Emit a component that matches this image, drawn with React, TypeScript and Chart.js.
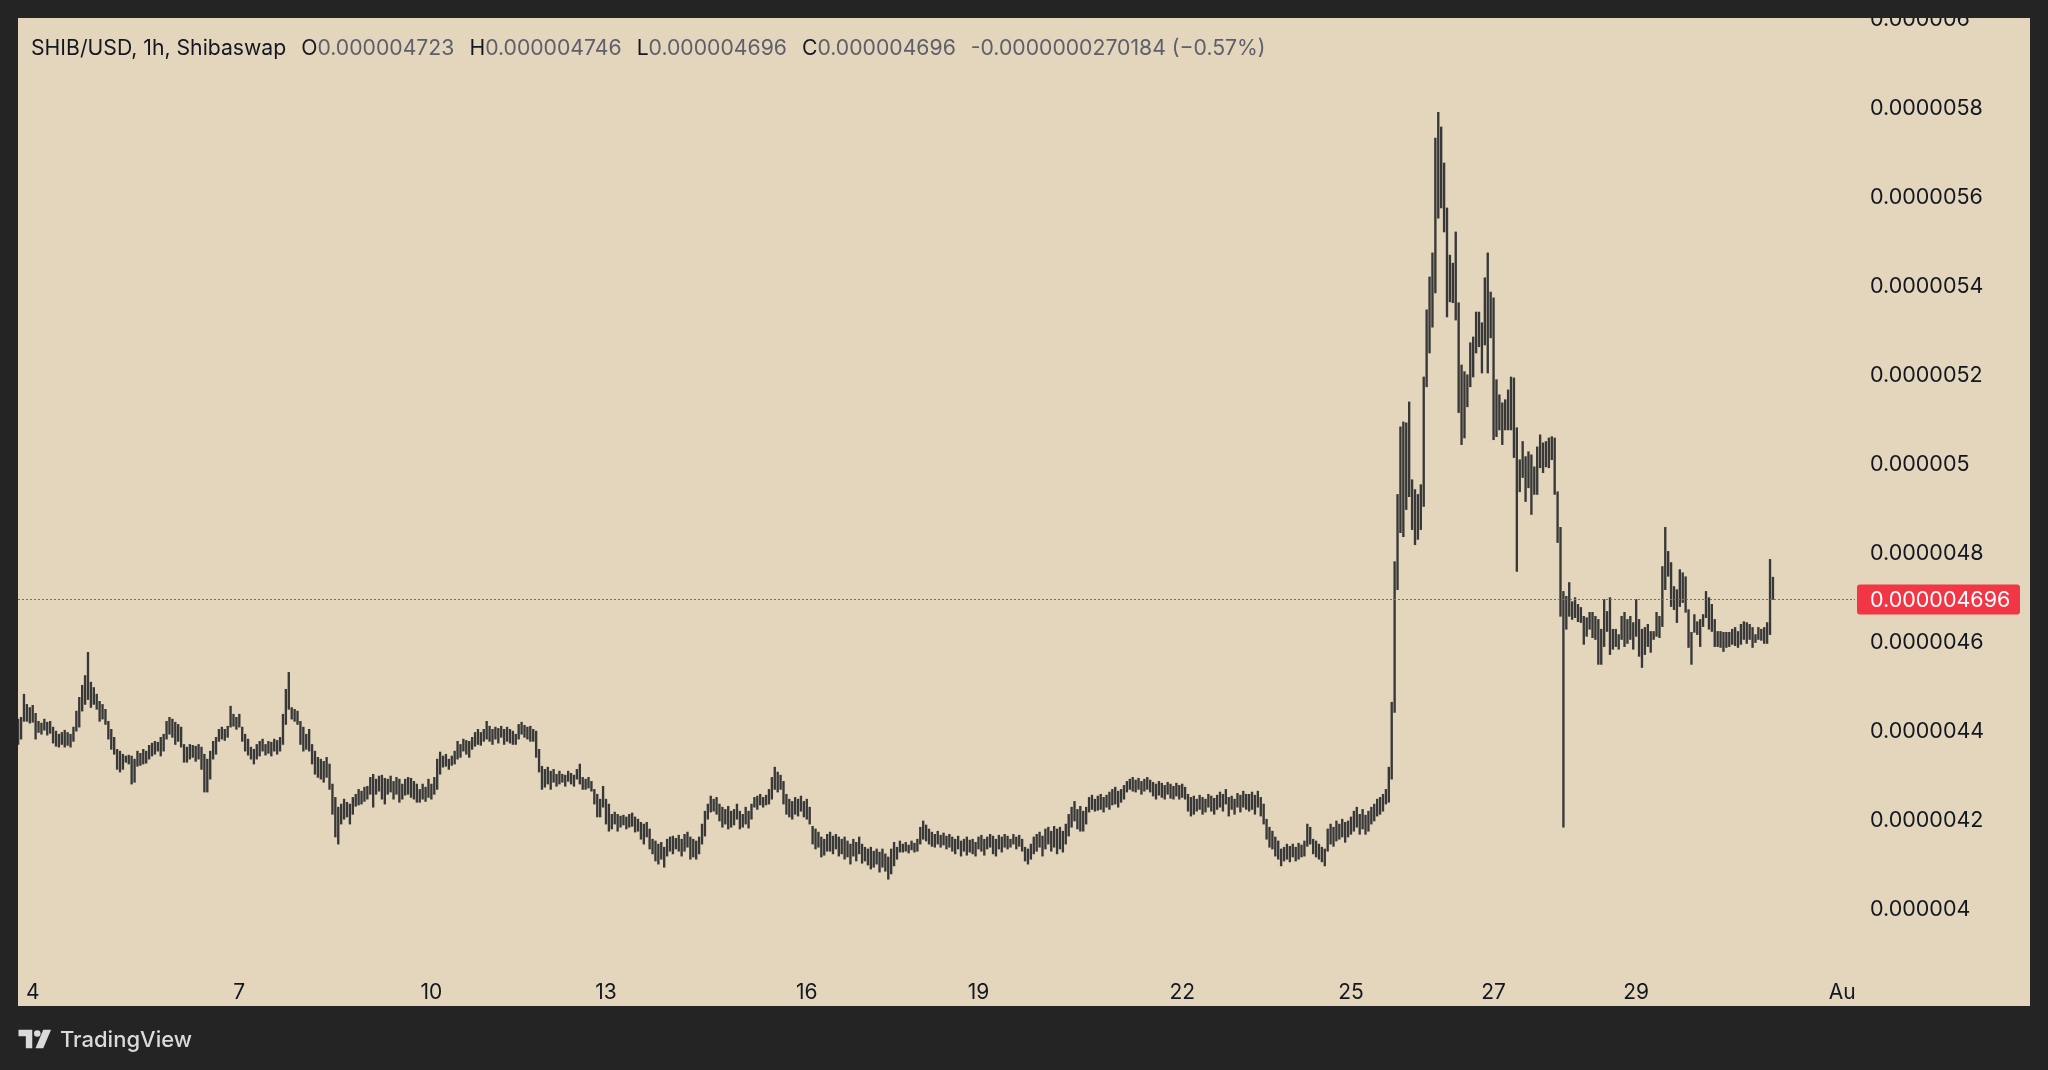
import React, { useEffect, useRef } from "react";
import { Chart, registerables } from "chart.js";

Chart.register(...registerables);

// SHIB/USD 1h bars (Shibaswap), Jul 3 evening -> Jul 31. Prices in units of 1e-9 USD.
const highsNano = [
  4427, 4431, 4483, 4460, 4453, 4458, 4440, 4422, 4418, 4427,
  4420, 4422, 4409, 4400, 4393, 4397, 4402, 4397, 4393, 4409,
  4445, 4476, 4503, 4525, 4577, 4510, 4498, 4483, 4467, 4460,
  4449, 4422, 4404, 4386, 4359, 4355, 4348, 4344, 4346, 4344,
  4337, 4355, 4350, 4359, 4355, 4368, 4373, 4377, 4375, 4386,
  4393, 4422, 4431, 4427, 4420, 4415, 4409, 4370, 4364, 4370,
  4368, 4366, 4370, 4364, 4348, 4337, 4355, 4377, 4386, 4404,
  4409, 4404, 4411, 4456, 4438, 4431, 4438, 4409, 4393, 4382,
  4364, 4359, 4370, 4377, 4382, 4370, 4377, 4375, 4382, 4379,
  4386, 4438, 4494, 4532, 4453, 4449, 4445, 4422, 4409, 4393,
  4404, 4370, 4355, 4341, 4337, 4332, 4341, 4326, 4281, 4251,
  4229, 4236, 4247, 4240, 4236, 4251, 4258, 4269, 4265, 4274,
  4276, 4296, 4303, 4292, 4299, 4301, 4294, 4292, 4299, 4287,
  4296, 4292, 4281, 4292, 4296, 4294, 4287, 4281, 4269, 4281,
  4274, 4292, 4281, 4296, 4337, 4353, 4344, 4348, 4337, 4344,
  4355, 4377, 4370, 4382, 4379, 4377, 4386, 4397, 4404, 4397,
  4404, 4422, 4411, 4404, 4409, 4406, 4411, 4404, 4409, 4404,
  4400, 4393, 4415, 4420, 4413, 4409, 4411, 4404, 4400, 4359,
  4321, 4314, 4319, 4310, 4314, 4303, 4310, 4303, 4301, 4310,
  4305, 4301, 4314, 4326, 4296, 4292, 4296, 4287, 4269, 4258,
  4247, 4276, 4247, 4236, 4213, 4218, 4213, 4209, 4211, 4207,
  4213, 4216, 4207, 4202, 4195, 4191, 4195, 4180, 4157, 4153,
  4146, 4150, 4139, 4157, 4162, 4164, 4159, 4166, 4157, 4168,
  4173, 4162, 4157, 4153, 4162, 4191, 4220, 4236, 4254, 4247,
  4251, 4236, 4229, 4224, 4231, 4220, 4224, 4236, 4220, 4213,
  4229, 4220, 4236, 4251, 4254, 4258, 4251, 4256, 4269, 4296,
  4319, 4308, 4301, 4287, 4258, 4247, 4242, 4251, 4247, 4254,
  4242, 4247, 4229, 4186, 4180, 4173, 4162, 4157, 4168, 4173,
  4164, 4168, 4162, 4157, 4162, 4153, 4146, 4157, 4150, 4162,
  4146, 4139, 4135, 4139, 4130, 4135, 4128, 4135, 4124, 4117,
  4135, 4150, 4139, 4153, 4146, 4150, 4144, 4153, 4148, 4157,
  4184, 4198, 4189, 4180, 4173, 4168, 4175, 4166, 4171, 4164,
  4168, 4162, 4157, 4164, 4153, 4157, 4162, 4155, 4157, 4150,
  4162, 4166, 4157, 4162, 4168, 4164, 4157, 4166, 4162, 4168,
  4164, 4157, 4168, 4162, 4166, 4157, 4139, 4135, 4146, 4162,
  4168, 4173, 4164, 4180, 4184, 4175, 4186, 4180, 4184, 4175,
  4191, 4213, 4229, 4242, 4224, 4231, 4220, 4229, 4251, 4256,
  4247, 4254, 4258, 4251, 4256, 4263, 4269, 4274, 4265, 4269,
  4278, 4287, 4292, 4296, 4290, 4294, 4287, 4292, 4296, 4290,
  4285, 4281, 4287, 4283, 4278, 4285, 4281, 4276, 4283, 4278,
  4281, 4274, 4258, 4251, 4254, 4247, 4256, 4251, 4247, 4258,
  4254, 4249, 4256, 4263, 4258, 4269, 4251, 4254, 4247, 4260,
  4256, 4265, 4258, 4258, 4263, 4256, 4265, 4251, 4236, 4202,
  4184, 4175, 4162, 4153, 4135, 4139, 4146, 4141, 4146, 4139,
  4148, 4144, 4153, 4191, 4184, 4157, 4153, 4146, 4139, 4135,
  4180, 4191, 4184, 4198, 4191, 4202, 4195, 4198, 4207, 4220,
  4229, 4213, 4224, 4211, 4220, 4229, 4236, 4247, 4251, 4258,
  4269, 4319, 4465, 4781, 4932, 5084, 5095, 5093, 5140, 4965,
  4943, 4932, 4954, 5196, 5347, 5421, 5475, 5733, 5791, 5758,
  5677, 5576, 5470, 5452, 5522, 5363, 5223, 5208, 5201, 5273,
  5286, 5342, 5342, 5318, 5419, 5475, 5387, 5374, 5190, 5156,
  5138, 5145, 5167, 5196, 5194, 5082, 5010, 5051, 5017, 5028,
  5021, 4994, 5039, 5066, 5048, 5051, 5059, 5062, 5059, 4938,
  4858, 4714, 4703, 4734, 4691, 4700, 4685, 4678, 4658, 4655,
  4667, 4667, 4658, 4651, 4629, 4696, 4669, 4700, 4629, 4629,
  4617, 4658, 4667, 4651, 4658, 4644, 4696, 4651, 4629, 4633,
  4640, 4624, 4624, 4667, 4658, 4770, 4858, 4804, 4779, 4725,
  4718, 4763, 4756, 4747, 4673, 4622, 4662, 4646, 4651, 4662,
  4714, 4700, 4685, 4651, 4624, 4624, 4622, 4622, 4622, 4629,
  4633, 4624, 4640, 4646, 4644, 4640, 4633, 4617, 4633, 4629,
  4633, 4644, 4786, 4746,
];

const lowsNano = [
  4370, 4382, 4422, 4422, 4418, 4420, 4382, 4397, 4393, 4402,
  4391, 4395, 4373, 4366, 4364, 4370, 4364, 4368, 4364, 4377,
  4400, 4409, 4445, 4460, 4471, 4453, 4460, 4449, 4422, 4427,
  4415, 4382, 4359, 4348, 4314, 4308, 4314, 4330, 4326, 4281,
  4285, 4321, 4323, 4326, 4328, 4337, 4344, 4348, 4355, 4344,
  4355, 4382, 4393, 4386, 4370, 4377, 4364, 4330, 4330, 4337,
  4341, 4332, 4337, 4314, 4263, 4263, 4292, 4337, 4348, 4377,
  4382, 4379, 4386, 4409, 4411, 4404, 4409, 4377, 4355, 4346,
  4337, 4326, 4337, 4344, 4355, 4346, 4350, 4344, 4355, 4348,
  4355, 4370, 4415, 4449, 4427, 4422, 4415, 4370, 4355, 4359,
  4355, 4326, 4303, 4296, 4292, 4285, 4296, 4269, 4213, 4162,
  4146, 4191, 4202, 4207, 4191, 4213, 4231, 4234, 4236, 4242,
  4247, 4258, 4229, 4258, 4265, 4247, 4236, 4258, 4263, 4247,
  4258, 4240, 4247, 4256, 4258, 4251, 4247, 4240, 4240, 4247,
  4242, 4251, 4247, 4258, 4269, 4303, 4319, 4321, 4314, 4323,
  4326, 4337, 4341, 4355, 4348, 4341, 4359, 4366, 4370, 4368,
  4377, 4382, 4377, 4370, 4382, 4373, 4386, 4370, 4377, 4373,
  4370, 4370, 4382, 4393, 4386, 4382, 4377, 4377, 4341, 4308,
  4269, 4274, 4281, 4269, 4285, 4276, 4281, 4285, 4276, 4287,
  4281, 4276, 4292, 4281, 4269, 4269, 4272, 4265, 4236, 4207,
  4207, 4229, 4191, 4175, 4180, 4191, 4175, 4184, 4189, 4180,
  4184, 4186, 4173, 4175, 4157, 4146, 4162, 4135, 4124, 4108,
  4101, 4112, 4094, 4119, 4130, 4124, 4135, 4130, 4119, 4130,
  4139, 4112, 4117, 4112, 4124, 4146, 4164, 4202, 4218, 4220,
  4213, 4198, 4184, 4191, 4180, 4184, 4189, 4202, 4180, 4184,
  4191, 4182, 4202, 4229, 4224, 4234, 4229, 4234, 4236, 4247,
  4269, 4263, 4269, 4236, 4213, 4207, 4202, 4213, 4209, 4220,
  4207, 4202, 4191, 4146, 4135, 4139, 4117, 4121, 4130, 4130,
  4124, 4135, 4119, 4124, 4112, 4117, 4101, 4119, 4108, 4124,
  4103, 4108, 4099, 4090, 4094, 4101, 4083, 4094, 4085, 4067,
  4079, 4097, 4112, 4128, 4128, 4130, 4126, 4133, 4128, 4130,
  4146, 4157, 4153, 4146, 4141, 4139, 4146, 4139, 4144, 4135,
  4139, 4130, 4124, 4135, 4119, 4130, 4121, 4128, 4124, 4119,
  4135, 4130, 4121, 4135, 4139, 4124, 4119, 4135, 4128, 4139,
  4135, 4139, 4146, 4135, 4141, 4130, 4108, 4101, 4112, 4124,
  4130, 4139, 4119, 4135, 4146, 4130, 4139, 4124, 4135, 4128,
  4146, 4164, 4184, 4198, 4180, 4175, 4175, 4191, 4218, 4224,
  4220, 4222, 4224, 4218, 4229, 4224, 4234, 4236, 4229, 4240,
  4247, 4263, 4269, 4265, 4263, 4269, 4258, 4265, 4269, 4263,
  4254, 4247, 4256, 4251, 4247, 4258, 4249, 4247, 4254, 4247,
  4251, 4247, 4220, 4209, 4213, 4220, 4224, 4213, 4218, 4229,
  4220, 4213, 4224, 4229, 4220, 4236, 4209, 4224, 4213, 4229,
  4218, 4229, 4224, 4220, 4224, 4213, 4229, 4209, 4191, 4157,
  4139, 4135, 4119, 4112, 4097, 4108, 4112, 4106, 4117, 4108,
  4112, 4117, 4119, 4141, 4146, 4124, 4117, 4112, 4106, 4097,
  4130, 4146, 4141, 4153, 4157, 4162, 4150, 4162, 4168, 4175,
  4184, 4168, 4180, 4168, 4175, 4191, 4198, 4209, 4213, 4220,
  4236, 4240, 4292, 4442, 4718, 4846, 4837, 4898, 4927, 4853,
  4819, 4831, 4853, 4905, 5174, 5250, 5308, 5385, 5553, 5576,
  5522, 5331, 5365, 5363, 5324, 5116, 5044, 5059, 5129, 5174,
  5196, 5250, 5264, 5205, 5268, 5205, 5284, 5055, 5062, 5077,
  5044, 5077, 5077, 5077, 5015, 4759, 4938, 4970, 4916, 4947,
  4887, 4932, 4932, 4992, 4981, 4994, 4992, 5010, 4932, 4824,
  4658, 4184, 4629, 4658, 4651, 4655, 4646, 4644, 4595, 4613,
  4629, 4610, 4606, 4550, 4550, 4590, 4624, 4572, 4584, 4590,
  4584, 4606, 4590, 4597, 4606, 4584, 4613, 4568, 4543, 4572,
  4590, 4577, 4606, 4613, 4610, 4635, 4718, 4748, 4680, 4673,
  4644, 4680, 4689, 4667, 4588, 4550, 4622, 4617, 4590, 4635,
  4655, 4629, 4624, 4590, 4590, 4588, 4579, 4588, 4590, 4595,
  4592, 4588, 4595, 4606, 4597, 4606, 4588, 4599, 4606, 4604,
  4597, 4597, 4617, 4696,
];

// Day labels on the time axis, placed at the bar index where each day starts
const dayTickBars = [5, 76, 142, 202, 271, 330, 400, 458, 507, 556, 629];
const dayTickLabels = ["4", "7", "10", "13", "16", "19", "22", "25", "27", "29", "Aug"];

// Last bar (legend) values, units of 1e-9 USD
const lastOpenNano = 4723;
const lastHighNano = 4746;
const lastLowNano = 4696;
const lastCloseNano = 4696;
const changeLabel = "-0.0000000270184 (\u22120.57%)";
const symbolLabel = "SHIB/USD, 1h, Shibaswap";

const DARK = "#242424";
const BEIGE = "#e3d6bc";
const RED = "#f23645";
const TEXT = "#131722";
const GRAY = "#5d606b";
const FONT = "Inter, 'Noto Sans', sans-serif";

const fmt = (nano: number) => {
  const s = (nano / 1e9).toFixed(9);
  return s.replace(/0+$/, "").replace(/\.$/, "");
};

export default function App() {
  const ref = useRef<HTMLCanvasElement | null>(null);

  useEffect(() => {
    const canvas = ref.current;
    if (!canvas) return;
    const W = window.innerWidth;
    const H = window.innerHeight;
    canvas.width = W;
    canvas.height = H;
    const PANEL_BOTTOM = H - 64;
    const AXIS_W = 175;

    const framePlugin = {
      id: "frame",
      beforeDraw(chart: any) {
        const ctx = chart.ctx;
        ctx.save();
        ctx.fillStyle = DARK;
        ctx.fillRect(0, 0, chart.width, chart.height);
        ctx.fillStyle = BEIGE;
        ctx.fillRect(18, 18, chart.width - 36, PANEL_BOTTOM - 18);
        ctx.restore();
      },
      afterDraw(chart: any) {
        const ctx = chart.ctx;
        const { left, right, bottom } = chart.chartArea;
        ctx.save();
        // clip overflowing labels like the real panel
        ctx.fillStyle = DARK;
        ctx.fillRect(0, 0, chart.width, 18);
        ctx.fillStyle = BEIGE;
        ctx.fillRect(right, bottom + 1, chart.width - 18 - right, PANEL_BOTTOM - bottom - 1);
        // last price line
        const y = Math.round(chart.scales.y.getPixelForValue(lastCloseNano)) + 0.5;
        ctx.strokeStyle = RED;
        ctx.lineWidth = 1.2;
        ctx.setLineDash([2, 2]);
        ctx.beginPath();
        ctx.moveTo(left, y);
        ctx.lineTo(right, y);
        ctx.stroke();
        ctx.setLineDash([]);
        // price label
        ctx.fillStyle = RED;
        ctx.beginPath();
        (ctx as any).roundRect(right + 2, y - 15, 163, 30, 3);
        ctx.fill();
        ctx.fillStyle = "#ffffff";
        ctx.font = `21.5px ${FONT}`;
        ctx.textBaseline = "middle";
        ctx.textAlign = "left";
        ctx.fillText(fmt(lastCloseNano), right + 15, y + 1);
        ctx.restore();
      },
    };

    const chart = new Chart(canvas, {
      type: "bar",
      data: {
        datasets: [
          {
            data: highsNano.map((h, i) => ({ x: i, y: [lowsNano[i], h] })) as any,
            backgroundColor: "#383838",
            borderWidth: 0,
            barThickness: 1.7,
          },
        ],
      },
      options: {
        animation: false,
        responsive: false,
        devicePixelRatio: 1,
        layout: { padding: { left: 18, right: 18, top: 18, bottom: 64 } },
        plugins: {
          legend: { display: false },
          tooltip: { enabled: false },
          title: { display: false },
        },
        scales: {
          x: {
            type: "linear",
            offset: false,
            min: -0.05,
            max: 631.2,
            grid: { display: false },
            border: { display: false },
            afterBuildTicks: (s: any) => {
              s.ticks = dayTickBars.map((v) => ({ value: v }));
            },
            afterFit: (s: any) => {
              s.height = 40;
              s.paddingLeft = 0;
              s.paddingRight = 0;
            },
            ticks: {
              autoSkip: false,
              maxRotation: 0,
              padding: 6,
              color: TEXT,
              font: { family: FONT, size: 21 },
              callback: (v: any) => {
                const k = dayTickBars.indexOf(Number(v));
                return k >= 0 ? dayTickLabels[k] : "";
              },
            },
          },
          y: {
            type: "linear",
            position: "right",
            min: 3872,
            max: 6003,
            beginAtZero: false,
            grid: { display: false, drawTicks: false },
            border: { display: false },
            afterFit: (s: any) => {
              s.width = AXIS_W;
              s.paddingTop = 0;
              s.paddingBottom = 0;
            },
            ticks: {
              stepSize: 200,
              includeBounds: false,
              padding: 15,
              color: TEXT,
              font: { family: FONT, size: 21.5 },
              callback: (v: any) => fmt(Number(v)),
            },
          },
        },
      } as any,
      plugins: [framePlugin],
    });
    return () => chart.destroy();
  }, []);

  const gap = { marginLeft: 15 };
  return (
    <div style={{ position: "fixed", inset: 0, background: DARK, overflow: "hidden" }}>
      <canvas ref={ref} style={{ position: "absolute", left: 0, top: 0 }} />
      <div
        style={{
          position: "absolute",
          left: 31,
          top: 34,
          fontFamily: FONT,
          fontSize: 21.2,
          lineHeight: "26px",
          color: TEXT,
          whiteSpace: "pre",
        }}
      >
        <span>{symbolLabel}</span>
        <span style={gap}>O</span>
        <span style={{ color: GRAY }}>{fmt(lastOpenNano)}</span>
        <span style={gap}>H</span>
        <span style={{ color: GRAY }}>{fmt(lastHighNano)}</span>
        <span style={gap}>L</span>
        <span style={{ color: GRAY }}>{fmt(lastLowNano)}</span>
        <span style={gap}>C</span>
        <span style={{ color: GRAY }}>{fmt(lastCloseNano)}</span>
        <span style={{ ...gap, color: GRAY }}>{changeLabel}</span>
      </div>
      <div
        style={{
          position: "absolute",
          left: 18,
          top: 1026,
          height: 26,
          display: "flex",
          alignItems: "center",
          color: "#d9dadc",
          fontFamily: FONT,
          fontSize: 22,
          fontWeight: 500,
        }}
      >
        <svg width="34" height="22" viewBox="0 0 36 24" style={{ marginRight: 8 }}>
          <path d="M0 2h15v20H8V9H0z" fill="#d9dadc" />
          <circle cx="20.5" cy="6" r="3.6" fill="#d9dadc" />
          <path d="M27 2h8.5L27 22h-8.5z" fill="#d9dadc" />
        </svg>
        <span>TradingView</span>
      </div>
    </div>
  );
}
